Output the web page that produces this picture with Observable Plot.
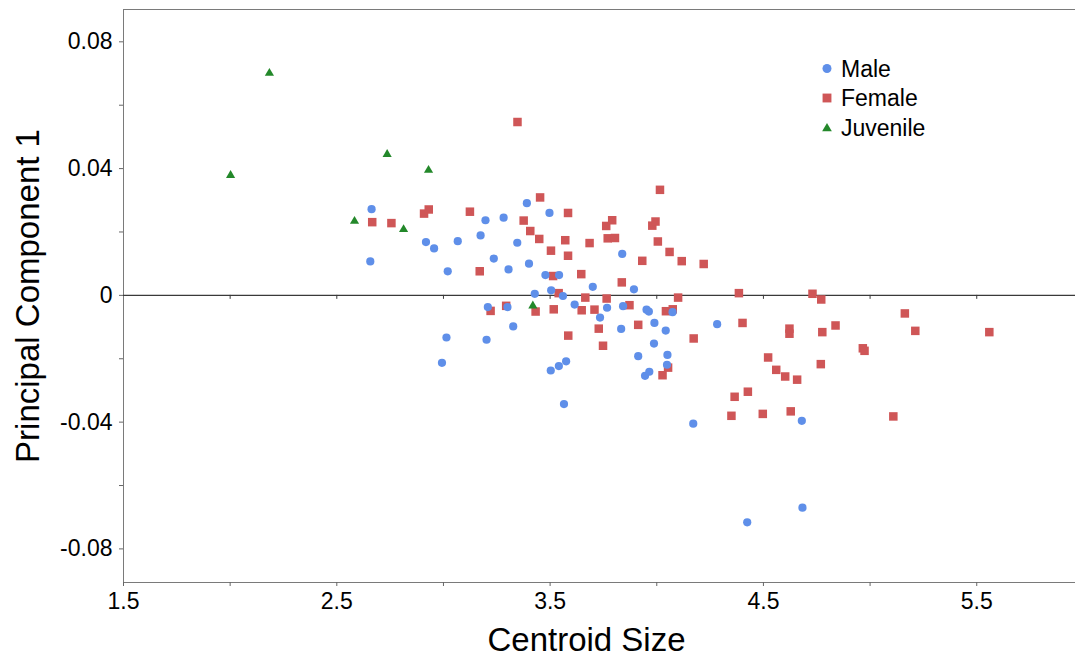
<!DOCTYPE html>
<html><head><meta charset="utf-8">
<script src="https://cdn.jsdelivr.net/npm/d3@7"></script>
<script src="https://cdn.jsdelivr.net/npm/@observablehq/plot@0.6"></script>
<style>
body{margin:0;background:#fff;font-family:"Liberation Sans",Arial,sans-serif;}
#wrap{position:relative;width:1075px;height:664px;}
#legend{position:absolute;left:0;top:0;pointer-events:none;}
</style></head><body><div id="wrap"></div>
<script>
// Male
const maleSize = [2.663,2.657,2.918,2.956,3.020,3.197,3.282,3.067,3.174,3.346,3.391,3.497,3.236,3.305,3.401,3.838,3.478,3.542,3.700,3.893,3.428,3.505,3.560,3.615,3.208,3.300,3.767,3.842,3.952,3.963,4.074,3.734,3.327,3.833,3.989,4.042,3.014,3.202,3.987,2.993,3.913,4.050,3.503,3.541,3.575,3.945,3.965,4.048,3.565,4.171,4.283,4.680,4.683,4.424];
const malePC1 = [0.0272,0.0107,0.0168,0.0148,0.0076,0.0237,0.0245,0.0171,0.0189,0.0166,0.0291,0.0260,0.0116,0.0082,0.0100,0.0131,0.0064,0.0064,0.0027,0.0019,0.0005,0.0016,-0.0002,-0.0029,-0.0037,-0.0037,-0.0039,-0.0034,-0.0045,-0.0051,-0.0053,-0.0070,-0.0098,-0.0106,-0.0087,-0.0111,-0.0133,-0.0140,-0.0152,-0.0213,-0.0192,-0.0188,-0.0237,-0.0223,-0.0208,-0.0254,-0.0241,-0.0219,-0.0343,-0.0405,-0.0091,-0.0396,-0.0670,-0.0716];
// Female
const femaleSize = [3.347,3.453,3.584,4.015,2.666,2.756,2.909,2.931,3.124,3.376,3.407,3.449,3.571,3.504,3.584,3.685,3.763,3.791,3.770,3.804,3.979,3.994,4.005,4.060,3.932,4.117,4.220,3.170,3.514,3.646,3.836,3.540,3.665,3.765,4.100,3.221,3.294,3.432,3.517,3.648,3.708,3.872,4.043,4.075,3.728,3.585,3.913,3.748,4.173,4.053,4.027,4.385,4.730,4.771,4.402,4.622,4.622,4.776,4.838,5.163,5.212,5.559,4.522,4.560,4.602,4.658,4.769,4.966,4.974,4.365,4.427,4.350,4.497,4.628,5.109];
const femalePC1 = [0.0547,0.0309,0.0260,0.0333,0.0231,0.0228,0.0258,0.0271,0.0264,0.0236,0.0203,0.0178,0.0174,0.0141,0.0125,0.0165,0.0219,0.0237,0.0180,0.0181,0.0220,0.0233,0.0170,0.0137,0.0109,0.0108,0.0099,0.0076,0.0061,0.0067,0.0041,0.0007,-0.0007,-0.0010,-0.0007,-0.0049,-0.0033,-0.0051,-0.0044,-0.0047,-0.0045,-0.0031,-0.0050,-0.0044,-0.0105,-0.0127,-0.0093,-0.0159,-0.0136,-0.0228,-0.0252,0.0007,0.0005,-0.0013,-0.0087,-0.0105,-0.0121,-0.0116,-0.0095,-0.0057,-0.0112,-0.0116,-0.0196,-0.0235,-0.0256,-0.0266,-0.0217,-0.0167,-0.0175,-0.0320,-0.0304,-0.0380,-0.0374,-0.0366,-0.0382];
// Juvenile
const juvSize = [2.002,2.184,2.583,2.736,2.930,2.813,3.419];
const juvPC1 = [0.0379,0.0701,0.0234,0.0445,0.0395,0.0208,-0.0033];

const groups = ["Male","Female","Juvenile"];
const groupColors = ["#5f8fe9","#cf5657","#23882a"];
const groupSymbols = ["circle","square","triangle"];

const xMajor = [1.5,2.5,3.5,4.5,5.5];
const xTickLabels = ["1.5","2.5","3.5","4.5","5.5"];
const xMinor = [2,3,4,5];
const yMajor = [0.08,0.04,0,-0.04,-0.08];
const yTickLabels = ["0.08","0.04","0","-0.04","-0.08"];
const yMinor = [0.06,0.02,-0.02,-0.06];
const xTitle = "Centroid Size";
const yTitle = "Principal Component 1";

const toRows = (xs, ys) => xs.map((x, i) => ({x, y: ys[i]}));
const male = toRows(maleSize, malePC1);
const female = toRows(femaleSize, femalePC1);
const juv = toRows(juvSize, juvPC1);

const font = "Liberation Sans, Arial, Helvetica, sans-serif";
const chart = Plot.plot({
  width: 1075, height: 664,
  marginLeft: 123, marginRight: 0, marginTop: 9, marginBottom: 82,
  style: {fontFamily: font, color: "#000", background: "#fff"},
  x: {domain: [1.5, 5.963]},
  y: {domain: [-0.0906, 0.0902]},
  marks: [
    Plot.frame({stroke: "#7a7a7a"}),
    Plot.ruleY([0], {stroke: "#3a3a3a", strokeWidth: 1.2}),
    Plot.ruleX([...xMinor, ...xMajor.slice(1)], {x: d => d, y1: () => 0, y2: () => 0, insetBottom: -4, stroke: "#3a3a3a"}),
    Plot.axisX(xMajor, {tickSize: 4, tickPadding: 6, fontSize: 23, stroke: "#666", tickFormat: d => xTickLabels[xMajor.indexOf(d)], label: null}),
    Plot.axisX(xMinor, {tickSize: 4, stroke: "#666", tickFormat: () => "", label: null}),
    Plot.axisY(yMajor, {tickSize: 4, tickPadding: 7, fontSize: 23, stroke: "#666", tickFormat: d => yTickLabels[yMajor.indexOf(d)], label: null}),
    Plot.axisY(yMinor, {tickSize: 4, stroke: "#666", tickFormat: () => "", label: null}),
    Plot.text([xTitle], {frameAnchor: "bottom", dx: -13, dy: 58, fontSize: 33, lineAnchor: "middle", textAnchor: "middle", fill: "#000"}),
    Plot.text([yTitle], {frameAnchor: "left", dx: -95, rotate: -90, fontSize: 33, lineAnchor: "middle", textAnchor: "middle", fill: "#000"}),
    Plot.dot(female, {x: "x", y: "y", symbol: groupSymbols[1], r: 4.8, fill: groupColors[1], stroke: "none"}),
    Plot.dot(male, {x: "x", y: "y", symbol: groupSymbols[0], r: 4.1, fill: groupColors[0], stroke: "none"}),
    Plot.dot(juv, {x: "x", y: "y", symbol: groupSymbols[2], r: 3.4, fill: groupColors[2], stroke: "none"})
  ]
});
const wrap = document.getElementById("wrap");
wrap.appendChild(chart);

// legend overlay
const lg = d3.select(wrap).append("svg").attr("id","legend").attr("width",1075).attr("height",664);
const symArea = [Math.PI*4.5*4.5, Math.PI*5*5, Math.PI*3.6*3.6];
const symTypes = [d3.symbolCircle, d3.symbolSquare, d3.symbolTriangle];
groups.forEach((g, i) => {
  const cy = 68.5 + i * 29.5;
  lg.append("path").attr("d", d3.symbol(symTypes[i], symArea[i])()).attr("transform", `translate(827,${cy + (i===2?1:0)})`).attr("fill", groupColors[i]);
  lg.append("text").attr("x", 841).attr("y", cy).attr("dy", "0.35em").attr("font-size", 23).attr("font-family", font).attr("fill", "#000").text(g);
});
</script>
</body></html>
